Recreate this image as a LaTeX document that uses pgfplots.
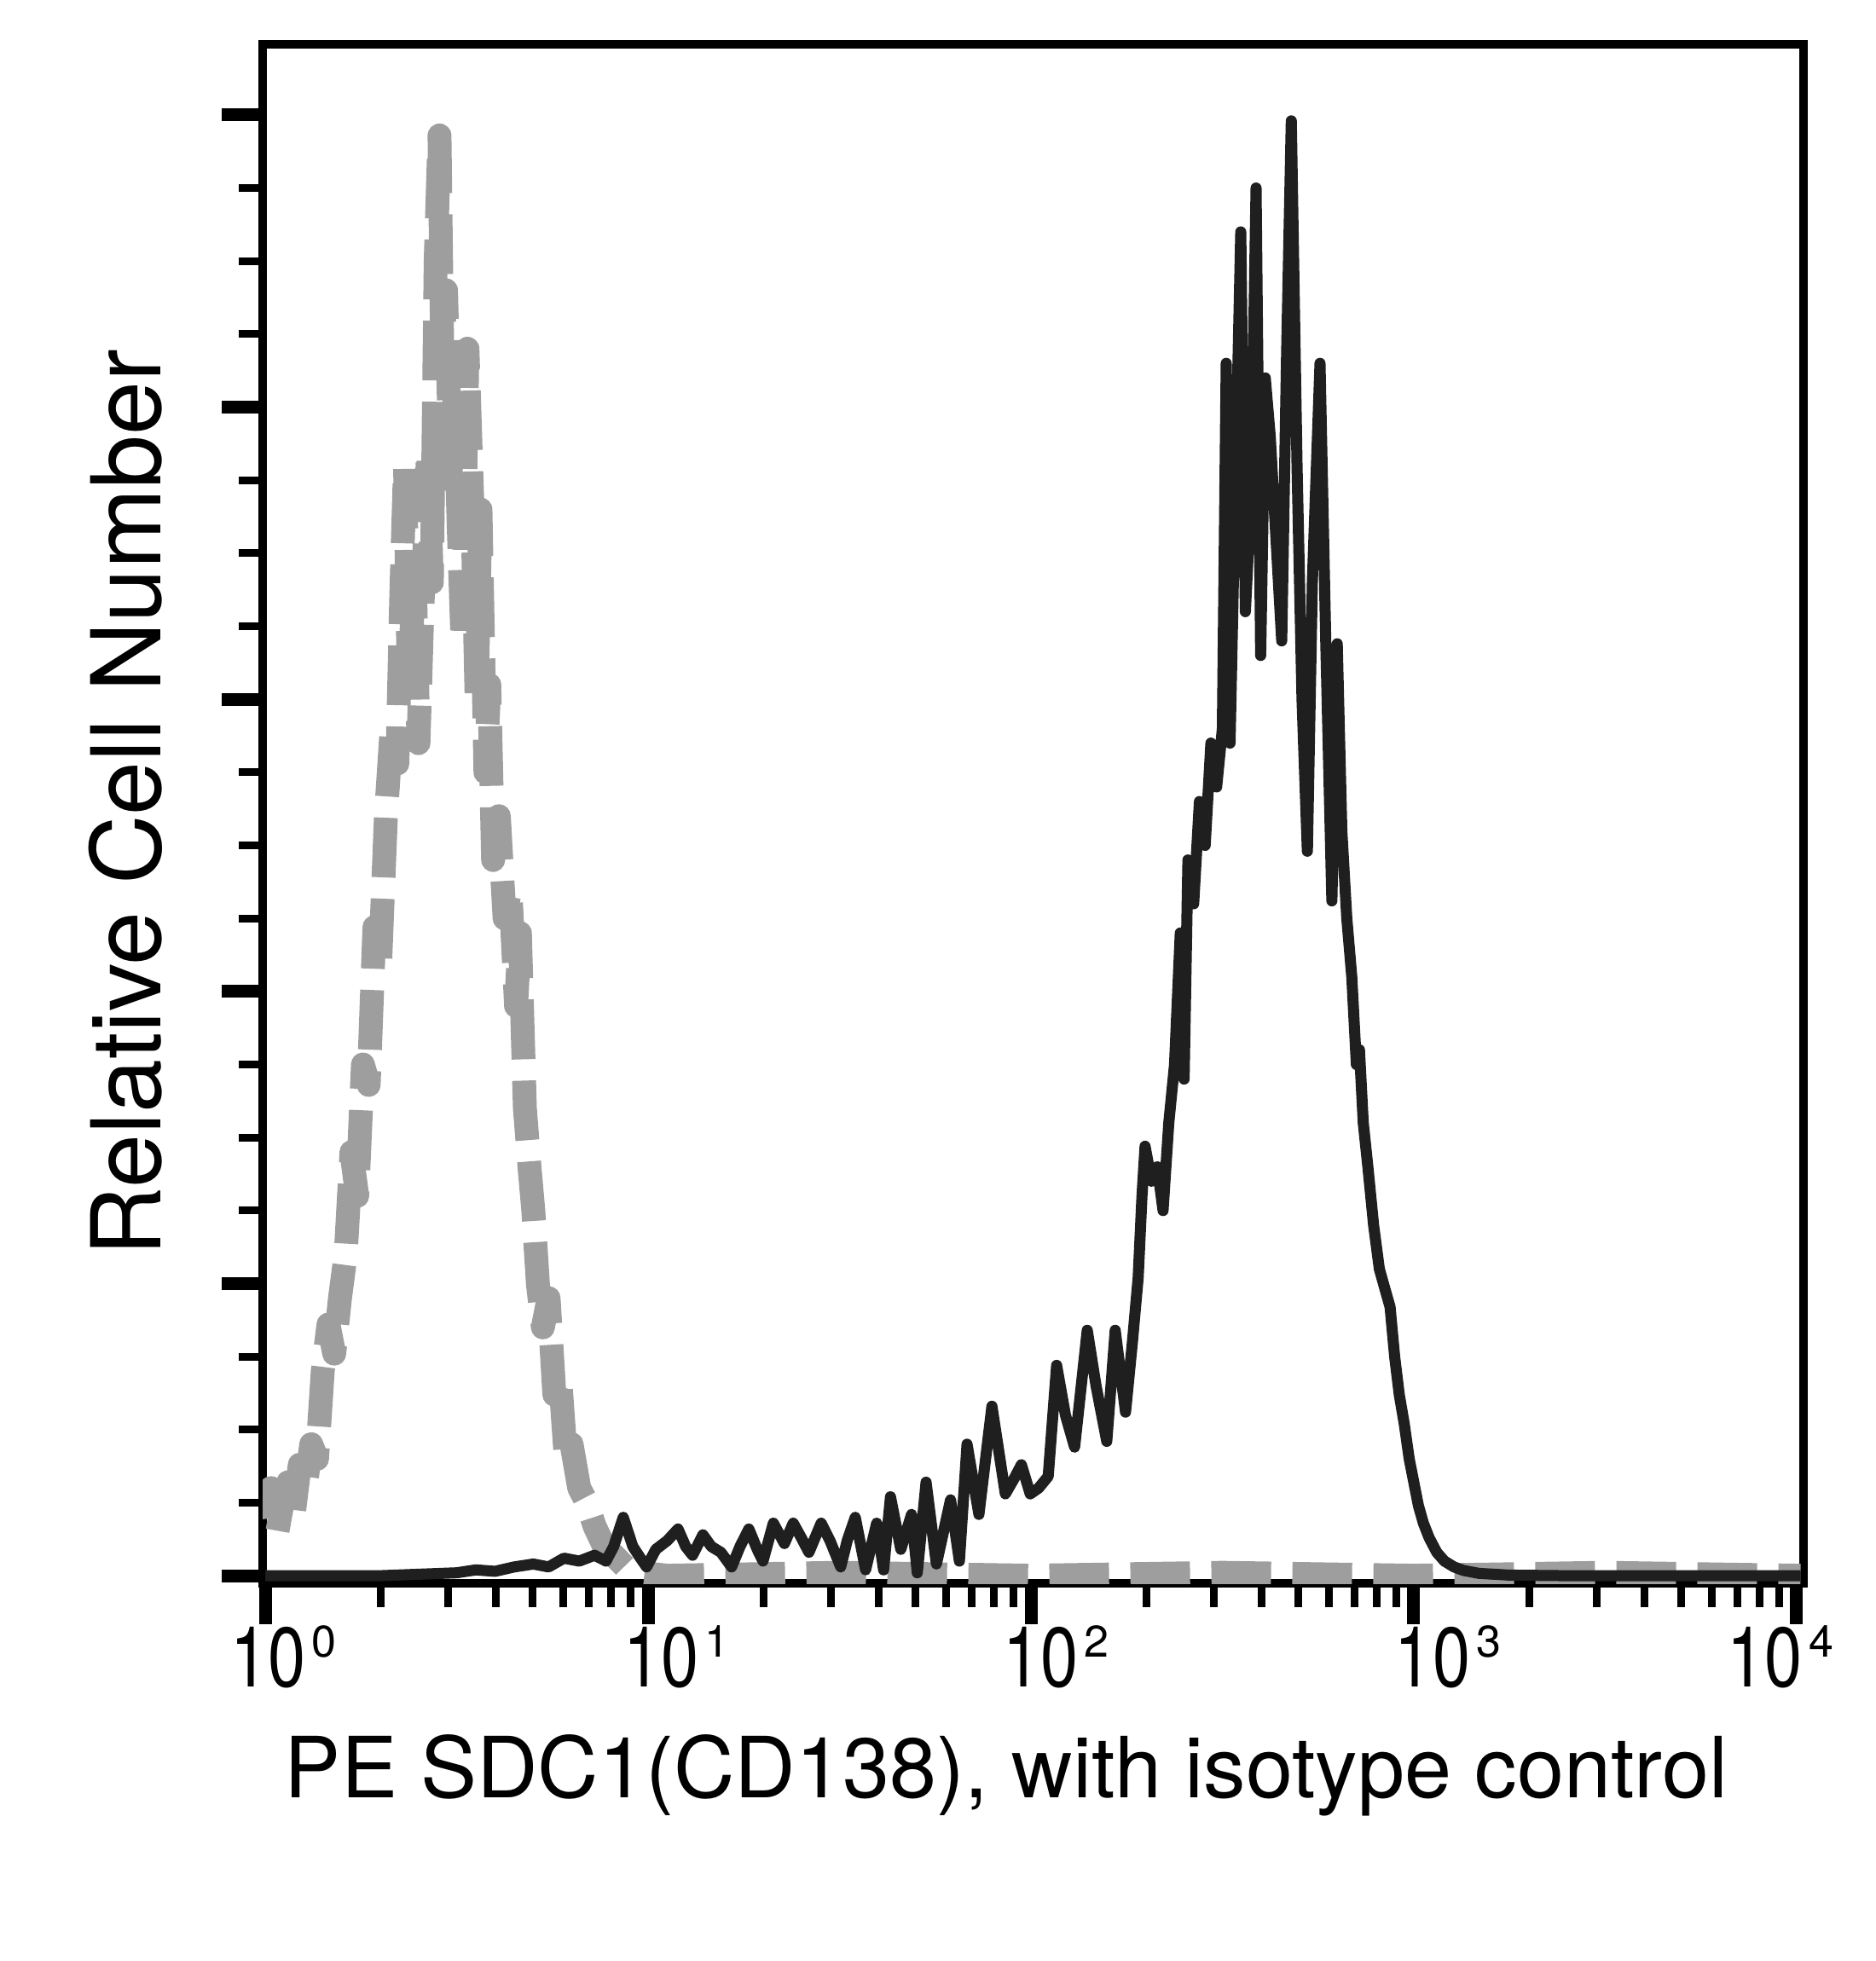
\documentclass[border=0pt]{standalone}
\usepackage{fontspec}
\setmainfont{TeX Gyre Heros}
\newfontfamily\tickfont[FakeStretch=0.8]{TeX Gyre Heros}
\usepackage{pgfplots}
\pgfplotsset{compat=1.18}
\newcommand{\tl}[2]{\makebox[0pt][l]{\hspace*{#1}\fontsize{9.9bp}{9.9bp}\tickfont 10\hspace{0.75bp}\raisebox{3.5bp}{\fontsize{5.2bp}{5.2bp}\rmfamily #2}}}

\pgfplotstableread{
x y
0.000 0.20
0.015 0.30
0.030 0.14
0.045 0.25
0.060 0.32
0.075 0.22
0.090 0.38
0.105 0.30
0.120 0.45
0.135 0.40
0.150 0.70
0.165 0.86
0.180 0.76
0.195 0.95
0.210 1.10
0.225 1.45
0.240 1.30
0.255 1.75
0.270 1.68
0.285 2.22
0.300 2.10
0.315 2.60
0.330 2.90
0.345 2.78
0.355 3.35
0.365 3.80
0.375 3.05
0.390 3.45
0.400 2.85
0.410 3.30
0.425 3.85
0.435 3.40
0.445 4.50
0.455 4.93
0.462 4.20
0.472 4.40
0.485 3.75
0.495 4.05
0.505 3.60
0.515 3.20
0.528 4.20
0.540 3.70
0.552 3.00
0.562 3.65
0.575 2.75
0.585 3.05
0.595 2.45
0.610 2.60
0.625 2.25
0.640 2.35
0.655 1.95
0.665 2.20
0.678 1.60
0.690 1.40
0.700 1.25
0.712 1.00
0.725 0.85
0.740 0.95
0.755 0.62
0.770 0.68
0.785 0.40
0.800 0.45
0.820 0.30
0.840 0.25
0.860 0.17
0.885 0.10
0.910 0.07
0.940 0.03
0.980 0.01
1.050 0.00
1.500 0.01
2.000 0.00
2.500 0.01
3.000 0.00
3.500 0.01
4.010 0.00
}\isotype

\pgfplotstableread{
x y
0.000 0.00
0.300 0.00
0.400 0.005
0.500 0.01
0.550 0.02
0.600 0.015
0.650 0.03
0.700 0.04
0.740 0.03
0.780 0.06
0.820 0.05
0.860 0.07
0.890 0.05
0.910 0.10
0.935 0.20
0.960 0.10
0.980 0.06
0.996 0.03
1.020 0.09
1.050 0.12
1.078 0.16
1.098 0.10
1.116 0.07
1.143 0.14
1.165 0.10
1.190 0.08
1.218 0.03
1.240 0.10
1.263 0.16
1.285 0.09
1.300 0.05
1.327 0.18
1.356 0.11
1.379 0.18
1.400 0.13
1.420 0.08
1.452 0.18
1.475 0.12
1.503 0.03
1.520 0.12
1.541 0.20
1.568 0.02
1.597 0.18
1.615 0.02
1.633 0.27
1.660 0.09
1.688 0.21
1.703 0.01
1.726 0.32
1.753 0.04
1.790 0.26
1.813 0.05
1.833 0.45
1.864 0.21
1.898 0.58
1.933 0.28
1.955 0.33
1.975 0.38
1.998 0.28
2.020 0.30
2.045 0.34
2.067 0.72
2.090 0.55
2.114 0.44
2.147 0.84
2.170 0.65
2.198 0.46
2.220 0.84
2.247 0.56
2.265 0.80
2.280 1.02
2.290 1.30
2.298 1.47
2.315 1.35
2.330 1.40
2.345 1.25
2.360 1.55
2.375 1.75
2.390 2.20
2.400 1.70
2.410 2.45
2.425 2.30
2.440 2.65
2.455 2.50
2.470 2.85
2.485 2.70
2.500 2.90
2.510 4.15
2.520 2.85
2.535 3.80
2.548 4.60
2.560 3.30
2.575 3.70
2.588 4.75
2.600 3.15
2.612 4.10
2.625 3.90
2.640 3.55
2.655 3.20
2.668 4.20
2.680 4.98
2.695 3.80
2.708 3.00
2.722 2.48
2.735 3.40
2.755 4.15
2.770 3.20
2.786 2.31
2.800 3.19
2.812 2.55
2.825 2.25
2.838 2.05
2.850 1.75
2.858 1.80
2.868 1.55
2.880 1.40
2.895 1.20
2.910 1.05
2.925 0.98
2.938 0.92
2.950 0.75
2.962 0.62
2.975 0.52
2.988 0.40
3.000 0.32
3.012 0.24
3.025 0.18
3.040 0.13
3.060 0.08
3.080 0.05
3.105 0.03
3.130 0.018
3.170 0.008
3.250 0.002
3.400 0.00
4.010 0.00
}\sdcone

\begin{document}
\begin{tikzpicture}
\begin{axis}[
  at={(0,0)}, anchor=south west,
  scale only axis, width=180.7bp, height=180.5bp,
  xmin=-0.007, xmax=4.018, ymin=-0.026, ymax=5.242,
  axis line style={line width=1bp},
  tick align=outside,
  xtick pos=left, ytick pos=left,
  xtick={0,1,2,3,4},
  xticklabels={\tl{-4.1bp}{0},\tl{-2.9bp}{1},\tl{-3.3bp}{2},\tl{-2.2bp}{3},\tl{-8.1bp}{4}},
  minor xtick={0.301,0.477,0.602,0.699,0.778,0.845,0.903,0.954,1.301,1.477,1.602,1.699,1.778,1.845,1.903,1.954,2.301,2.477,2.602,2.699,2.778,2.845,2.903,2.954,3.301,3.477,3.602,3.699,3.778,3.845,3.903,3.954},
  ytick={0,1,2,3,4,5}, yticklabels={},
  minor y tick num=3,
  major tick length=4.8bp, minor tick length=2.8bp,
  major tick style={line width=1.5bp, black},
  minor tick style={line width=0.9bp, black},
  xticklabel style={anchor=north, inner sep=0pt},
  xlabel={PE SDC1(CD138), with isotype control},
  xlabel style={at={(axis description cs:0.01328,-0.1396)}, anchor=base west, inner sep=0pt, font=\fontsize{9.9bp}{9.9bp}\selectfont},
  ylabel={Relative Cell Number},
  ylabel style={at={(axis description cs:-0.0664,0.2111)}, anchor=base west, inner sep=0pt, font=\fontsize{11.3bp}{11.3bp}\selectfont},
]
\addplot[black!38, line width=2.8bp, dash pattern=on 7bp off 2.5bp, line join=round] table {\isotype};
\addplot[black!88, line width=1.3bp, line join=round] table {\sdcone};
\end{axis}
\pgfresetboundingbox
\path[use as bounding box] (-30.8bp,-44.3bp) rectangle (189.2bp,185.7bp);
\end{tikzpicture}
\end{document}
